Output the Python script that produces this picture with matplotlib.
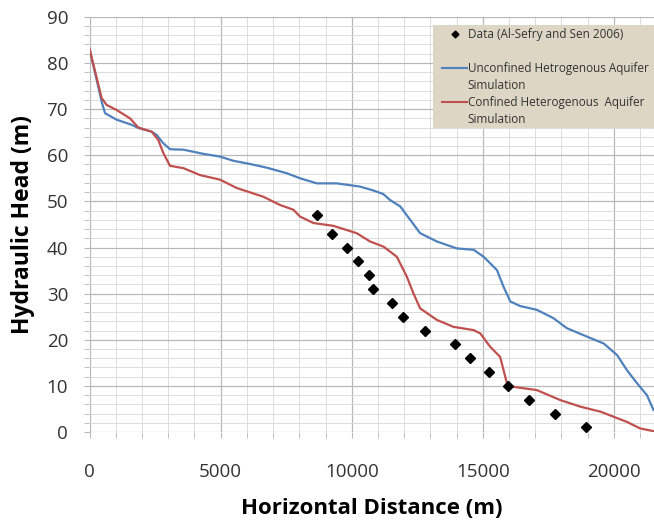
import numpy as np
import matplotlib.pyplot as plt
from matplotlib.lines import Line2D
from matplotlib.patches import Rectangle
from matplotlib.ticker import MultipleLocator

#---------------Data---------------

# Unconfined heterogeneous aquifer simulation (blue)
x_unconf = [0, 460, 590, 1030, 1600, 1860, 2370, 2560, 2810, 3070, 3580, 4340,
            4980, 5480, 6120, 6760, 7520, 8030, 8670, 9430, 10320, 10800, 11200,
            11460, 11850, 12230, 12610, 13250, 14010, 14650, 15030, 15540, 15790,
            16050, 16430, 17060, 17690, 18210, 18970, 19610, 20120, 20500, 20880,
            21260, 21510]
h_unconf = [83.0, 71.6, 69.1, 67.7, 66.6, 65.9, 65.1, 64.4, 62.6, 61.3, 61.2, 60.3,
            59.7, 58.8, 58.1, 57.3, 56.1, 55.0, 53.9, 53.9, 53.2, 52.4, 51.6,
            50.3, 48.9, 46.0, 43.1, 41.3, 39.8, 39.5, 38.0, 35.1, 31.5,
            28.3, 27.3, 26.5, 24.7, 22.5, 20.7, 19.2, 16.7, 13.4, 10.6,
            8.0, 4.8]

# Confined heterogeneous aquifer simulation (red)
x_conf = [0, 460, 650, 1030, 1540, 1860, 2370, 2620, 2810, 3070, 3580, 4210,
          4980, 5610, 6630, 7270, 7770, 8030, 8540, 9300, 10190, 10700, 11210,
          11720, 12100, 12350, 12610, 13250, 13880, 14650, 14900, 15280, 15660,
          15920, 16170, 17060, 17970, 18730, 19500, 20500, 21000, 21510]
h_conf = [83.0, 72.4, 70.9, 69.8, 68.0, 66.0, 65.1, 63.3, 60.5, 57.7, 57.2, 55.7,
          54.7, 52.9, 51.0, 49.2, 48.2, 46.7, 45.3, 44.7, 43.1, 41.3, 40.2,
          38.0, 33.7, 30.1, 26.8, 24.3, 22.8, 22.1, 21.4, 18.5, 16.3,
          10.6, 9.8, 9.1, 6.9, 5.5, 4.4, 2.2, 0.8, 0.2]

# Data (Al-Sefry and Sen 2006)
x_obs = [8670, 9240, 9810, 10230, 10660, 10820, 11530, 11960, 12790, 13930,
         14520, 15230, 15960, 16780, 17770, 18950]
h_obs = [47, 43, 40, 37, 34, 31, 28, 25, 22, 19, 16, 13, 10, 7, 4, 1]

#---------------Plot---------------

plt.rcParams['font.family'] = ['Open Sans', 'DejaVu Sans']

fig = plt.figure(figsize=(6.54, 5.25), dpi=100)
ax = fig.add_axes([0.137, 0.177, 0.863, 0.791])

ax.plot(x_unconf, h_unconf, color='#4f81bd', lw=1.6)
ax.plot(x_conf, h_conf, color='#c0504d', lw=1.6)
ax.plot(x_obs, h_obs, 'D', color='black', ms=5, ls='none')

ax.set_xlim(0, 21530)
ax.set_ylim(0, 90)
ax.xaxis.set_major_locator(MultipleLocator(5000))
ax.xaxis.set_minor_locator(MultipleLocator(1000))
ax.yaxis.set_major_locator(MultipleLocator(10))
ax.yaxis.set_minor_locator(MultipleLocator(2))
ax.grid(which='major', color='#b8b8b8', lw=0.9)
ax.grid(which='minor', color='#dcdcdc', lw=0.7)
ax.set_axisbelow(True)
for s in ax.spines.values():
    s.set_visible(False)
ax.tick_params(which='both', color='#b8b8b8', length=4.5, labelsize=13.5,
               labelcolor='#333333')
ax.tick_params(axis='y', which='major', pad=11)
ax.tick_params(axis='x', which='major', pad=18)

ax.set_xlabel('Horizontal Distance (m)', fontsize=16, fontweight='bold', labelpad=12)
ax.set_ylabel('Hydraulic Head (m)', fontsize=16.5, fontweight='bold', labelpad=8)

# legend background box
ax.add_patch(Rectangle((0.608, 0.733), 0.40, 0.248, transform=ax.transAxes,
                       facecolor='#ddd6c4', edgecolor='none', zorder=4,
                       clip_on=False))

# one legend row per text line, so the spacing stays even
blank = Line2D([], [], ls='none')
handles = [Line2D([], [], marker='D', color='black', ls='none', ms=3.5),
           blank,
           Line2D([], [], color='#4f81bd', lw=1.5),
           blank,
           Line2D([], [], color='#c0504d', lw=1.5),
           blank]
labels = ['Data (Al-Sefry and Sen 2006)', ' ',
          'Unconfined Hetrogenous Aquifer', 'Simulation',
          'Confined Heterogenous  Aquifer', 'Simulation']
leg = ax.legend(handles, labels, loc='upper left', bbox_to_anchor=(0.625, 0.973),
                fontsize=8.5, frameon=False, handlelength=2.1, handletextpad=0.05,
                labelspacing=0.34, borderaxespad=0, borderpad=0)
leg.set_zorder(5)
for t in leg.get_texts():
    t.set_color('#333333')

fig.savefig('out.png', dpi=100)
